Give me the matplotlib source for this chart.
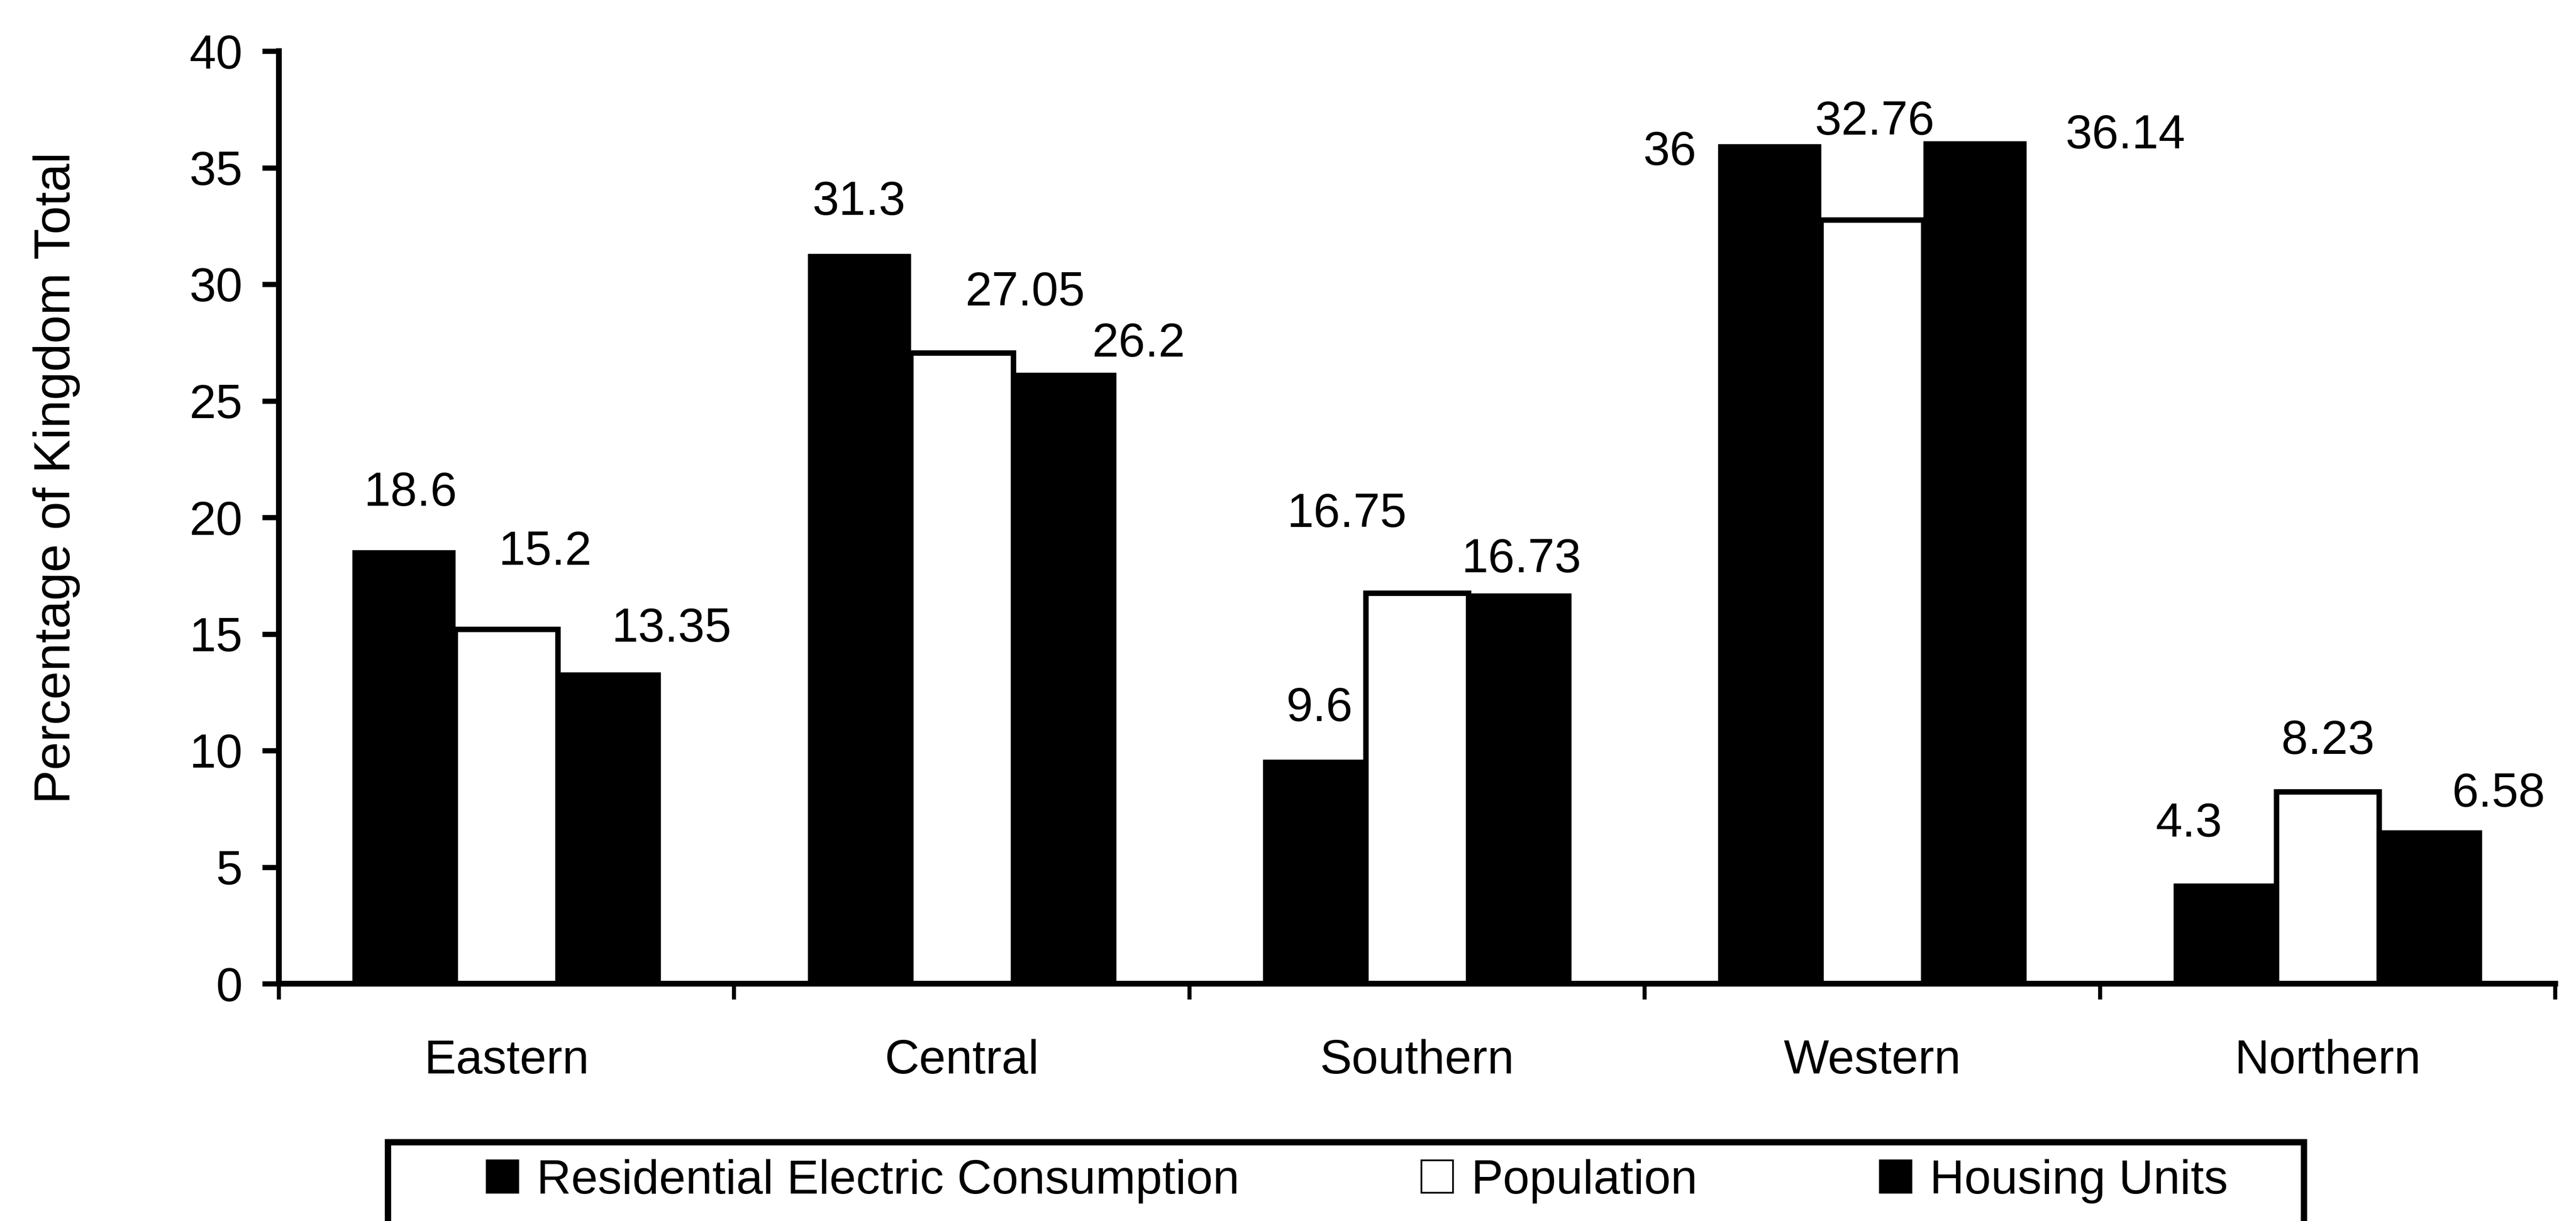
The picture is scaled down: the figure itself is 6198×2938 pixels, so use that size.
import matplotlib
matplotlib.use("Agg")
import matplotlib.pyplot as plt
from matplotlib.patches import Rectangle
import numpy as np

plt.rcParams["font.family"] = ["Liberation Sans", "DejaVu Sans"]

regions = ["Eastern", "Central", "Southern", "Western", "Northern"]
series_names = ["Residential Electric Consumption", "Population", "Housing Units"]
residential = [18.6, 31.3, 9.6, 36.0, 4.3]
population = [15.2, 27.05, 16.75, 32.76, 8.23]
housing = [13.35, 26.2, 16.73, 36.14, 6.58]
value_text = [
    ["18.6", "31.3", "9.6", "36", "4.3"],
    ["15.2", "27.05", "16.75", "32.76", "8.23"],
    ["13.35", "26.2", "16.73", "36.14", "6.58"],
]
y_ticks = [0, 5, 10, 15, 20, 25, 30, 35, 40]

# per-label nudges (category units, value units) relative to the bar top
label_dx = [
    [0.014, 0.000, 0.011, -0.219, -0.079],
    [0.085, 0.139, -0.154, 0.005, 0.001],
    [0.137, 0.163, 0.004, 0.330, 0.150],
]
label_dy = [
    [1.90, 1.68, 1.67, -0.88, 2.01],
    [2.77, 2.04, 2.84, 3.66, 1.63],
    [1.32, 0.70, 0.92, -0.31, 1.01],
]

W, H, DPI = 6198, 2938, 100
fig = plt.figure(figsize=(W / DPI, H / DPI), dpi=DPI)
ax = fig.add_axes([671 / W, 1 - 2367 / H, (6148 - 671) / W, (2367 - 123) / H])

FS = 83
bar_w = 0.2255
x = np.arange(len(regions))
series = [residential, population, housing]
faces = ["black", "white", "black"]
edge_lw = [1.0, 9.5, 1.0]

containers = []
for k, (vals, fc) in enumerate(zip(series, faces)):
    pos = x + (k - 1) * bar_w
    c = ax.bar(pos, vals, width=bar_w, color=fc, edgecolor="black",
               linewidth=edge_lw[k], label=series_names[k], zorder=2)
    containers.append(c)
    for i, v in enumerate(vals):
        ax.text(pos[i] + label_dx[k][i], v + label_dy[k][i], value_text[k][i],
                ha="center", va="baseline", fontsize=FS, color="black", zorder=3)

ax.set_xlim(-0.5, len(regions) - 0.5)
ax.set_ylim(0, 40)
ax.set_yticks(y_ticks)
ax.set_yticklabels([str(t) for t in y_ticks])

ax.set_xticks(np.arange(-0.5, len(regions), 1.0))
ax.set_xticklabels([])
ax.set_xticks(x, minor=True)
ax.set_xticklabels(regions, minor=True)

for s in ["top", "right"]:
    ax.spines[s].set_visible(False)
for s in ["left", "bottom"]:
    ax.spines[s].set_linewidth(10)
    ax.spines[s].set_capstyle("projecting")

ax.tick_params(axis="y", direction="out", length=29, width=9, pad=34, labelsize=FS)
ax.tick_params(axis="x", which="major", direction="out", length=27, width=7)
ax.tick_params(axis="x", which="minor", length=0, pad=96, labelsize=FS)

fig.text(136 / W, 1 - 1150 / H, "Percentage of Kingdom Total", rotation=90,
         ha="center", va="center", fontsize=88)

# legend box, running past the lower edge of the canvas
frame = Rectangle((933 / W, -0.05), (5543 - 933) / W, (0.05 + 1 - 2748 / H),
                  transform=fig.transFigure, facecolor="none", edgecolor="black",
                  linewidth=11, clip_on=False)
fig.patches.append(frame)

leg = fig.legend(handles=containers, labels=series_names, ncol=3,
                 loc="center left", bbox_to_anchor=(1171 / W, 1 - 2842 / H),
                 frameon=False, fontsize=FS, borderpad=0, borderaxespad=0,
                 handlelength=0.66, handleheight=0.66, handletextpad=0.38,
                 columnspacing=3.8)
for h in leg.legend_handles:
    h.set_linewidth(3)

fig.savefig("out.png", dpi=DPI, facecolor="white")
